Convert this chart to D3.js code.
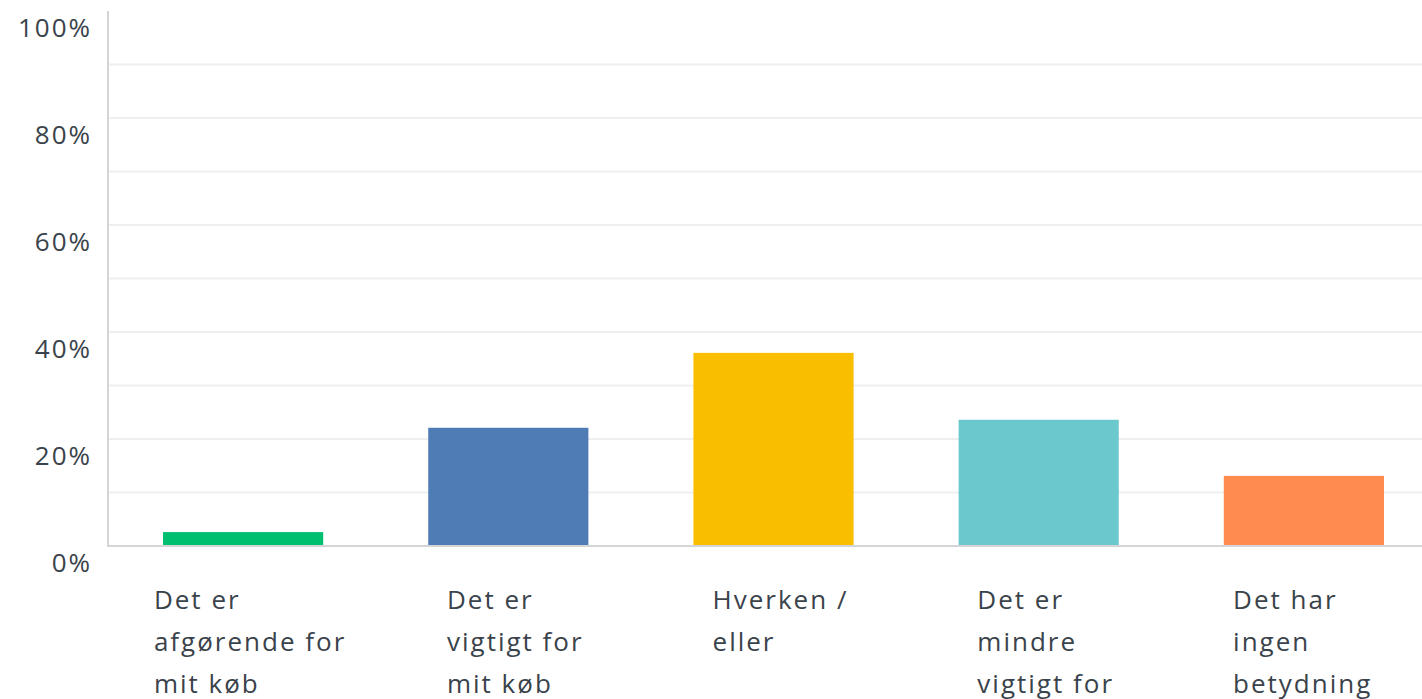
<!DOCTYPE html>
<html>
<head>
<meta charset="utf-8">
<script src="https://cdn.jsdelivr.net/npm/d3@7"></script>
<style>
  html, body { margin: 0; padding: 0; background: #fff; overflow: hidden; }
  svg text { font-family: "Open Sans", sans-serif; fill: #3a434b; letter-spacing: 2px; }
</style>
</head>
<body>
<script>
// answer options, already broken into lines the way the chart wraps them
var categories = [
  ["Det er", "afgørende for", "mit køb"],
  ["Det er", "vigtigt for", "mit køb"],
  ["Hverken /", "eller"],
  ["Det er", "mindre", "vigtigt for", "mit køb"],
  ["Det har", "ingen", "betydning", "for mit køb"]
];
var values = [2.6, 22.1, 36.1, 23.6, 13.1];
var colors = ["#00bf6f", "#507cb6", "#f9be00", "#6bc8cd", "#ff8b4f"];
var tickLabels = [0, 20, 40, 60, 80, 100];
var gridValues = [10, 20, 30, 40, 50, 60, 70, 80, 90];

var width = 1422, height = 699;

var svg = d3.select("body").append("svg")
    .attr("width", width)
    .attr("height", height);

var y = d3.scaleLinear().domain([0, 100]).range([546, 11]);
var x = d3.scaleBand()
    .domain(d3.range(categories.length))
    .range([108, 1439])
    .paddingInner(0.396)
    .paddingOuter(0.2075);

// gridlines
svg.append("g")
    .selectAll("line")
    .data(gridValues)
    .enter().append("line")
    .attr("x1", 108).attr("x2", width)
    .attr("y1", function(d) { return y(d); })
    .attr("y2", function(d) { return y(d); })
    .attr("stroke", "#eeefef")
    .attr("stroke-width", 2);

// y labels sit a bit below their value line
var yAxis = d3.axisLeft(y)
    .tickValues(tickLabels)
    .tickSize(0)
    .tickPadding(0)
    .tickFormat(function(d) { return d + "%"; });

var yg = svg.append("g")
    .attr("transform", "translate(92,16)")
    .call(yAxis);
yg.select(".domain").remove();
yg.selectAll("text")
    .attr("font-size", 26)
    .attr("font-family", null)
    .attr("fill", null)
    .attr("dy", "0.35em");

// bars
svg.append("g")
    .selectAll("rect")
    .data(values)
    .enter().append("rect")
    .attr("x", function(d, i) { return x(i); })
    .attr("width", x.bandwidth())
    .attr("y", function(d) { return y(d); })
    .attr("height", function(d) { return y(0) - y(d); })
    .attr("fill", function(d, i) { return colors[i]; });

// axis lines
svg.append("line")
    .attr("x1", 108).attr("x2", 108)
    .attr("y1", 11).attr("y2", 547)
    .attr("stroke", "#d3d5d6").attr("stroke-width", 2);
svg.append("line")
    .attr("x1", 107).attr("x2", width)
    .attr("y1", 546).attr("y2", 546)
    .attr("stroke", "#d3d5d6").attr("stroke-width", 2);

// category labels: left-aligned lines in a block centred under the bar
var labels = svg.append("g")
    .selectAll("text")
    .data(categories)
    .enter().append("text")
    .attr("font-size", 26)
    .attr("y", 609);

labels.selectAll("tspan")
    .data(function(d) { return d; })
    .enter().append("tspan")
    .attr("dy", function(d, i) { return i === 0 ? 0 : 42; })
    .text(function(d) { return d; });

labels.each(function(d, i) {
  var t = d3.select(this);
  var w = 0;
  t.selectAll("tspan").each(function() {
    w = Math.max(w, this.getComputedTextLength());
  });
  var left = x(i) + x.bandwidth() / 2 + 7 - w / 2;
  t.selectAll("tspan").attr("x", left);
});
</script>
</body>
</html>
